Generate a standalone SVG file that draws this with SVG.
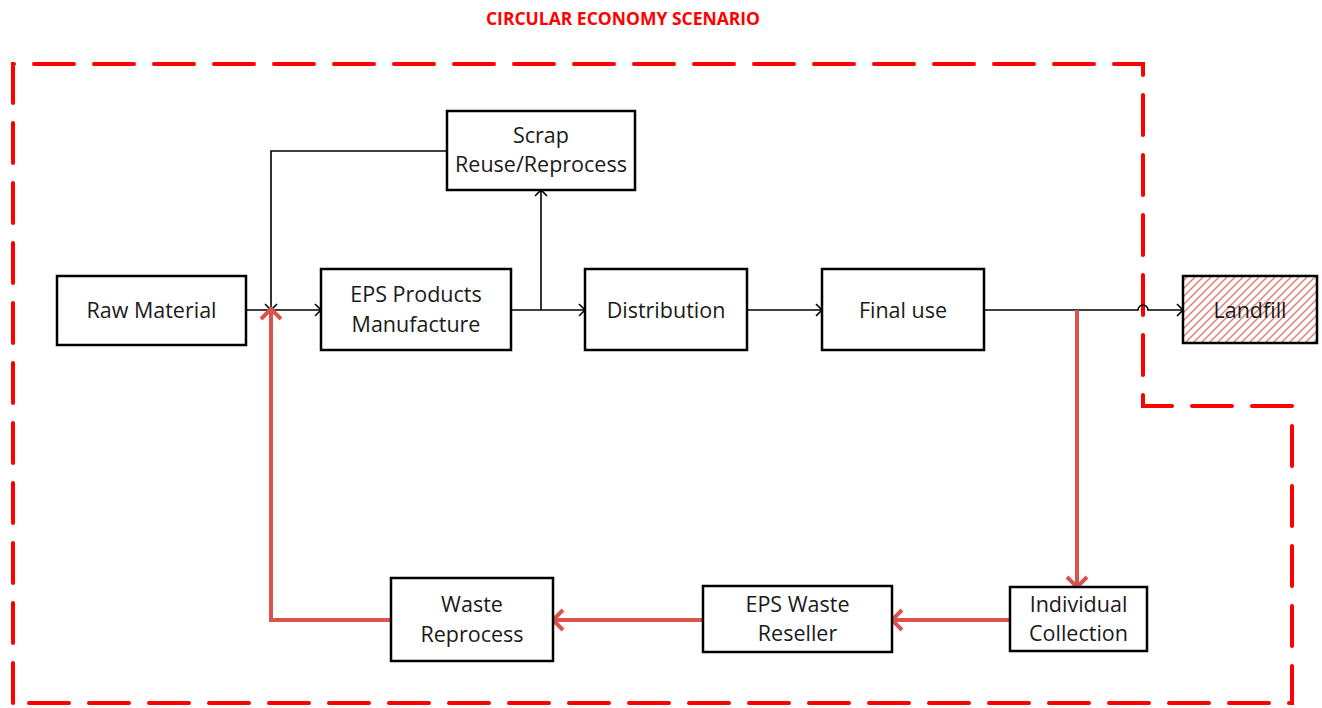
<svg xmlns="http://www.w3.org/2000/svg" width="1322" height="708" viewBox="0 0 1322 708">
<style>
.box{fill:#fff;stroke:#000;stroke-width:2.5}
.lbl{font-family:"Open Sans","Liberation Sans",sans-serif;font-size:21.5px;fill:#1a1a1a;text-anchor:middle}
.ln{fill:none;stroke:#000;stroke-width:1.6}
.rl{fill:none;stroke:#d9534f;stroke-width:4}
.border{fill:none;stroke:#ff0000;stroke-width:4;stroke-dasharray:40 20;stroke-linecap:round}
</style>
<defs>
<marker id="ab" markerWidth="14" markerHeight="14" refX="12" refY="7" orient="auto" markerUnits="userSpaceOnUse">
<path d="M6,1 L12,7 L6,13" fill="none" stroke="#000" stroke-width="1.6"/>
</marker>
<marker id="ar" markerWidth="24" markerHeight="24" refX="20" refY="12" orient="auto" markerUnits="userSpaceOnUse">
<path d="M10,2 L20,12 L10,22" fill="none" stroke="#d9534f" stroke-width="4"/>
</marker>
<pattern id="hatch" width="8" height="8" patternUnits="userSpaceOnUse">
<rect width="8" height="8" fill="#fff"/>
<path d="M-2,2 L2,-2 M0,8 L8,0 M6,10 L10,6" stroke="#e0807c" stroke-width="1.5"/>
</pattern>
</defs>
<text x="623" y="25" font-family="'Open Sans','Liberation Sans',sans-serif" font-size="17.5" font-weight="bold" fill="#ff0000" text-anchor="middle">CIRCULAR ECONOMY SCENARIO</text>
<path class="border" d="M13,703 L13,64 L1143,64 L1143,406 L1292,406 L1292,703 Z"/>
<g id="connectors">
<path class="ln" d="M246,310 L321,310" marker-end="url(#ab)"/>
<path class="ln" d="M447,151 L271,151 L271,310" marker-end="url(#ab)"/>
<path class="ln" d="M511,310 L585,310" marker-end="url(#ab)"/>
<path class="ln" d="M541,310 L541,190" marker-end="url(#ab)"/>
<path class="ln" d="M747,310 L822,310" marker-end="url(#ab)"/>
<path class="ln" d="M984,310 L1138,310 A5,5 0 0 1 1148,310 L1183,310" marker-end="url(#ab)"/>
<path class="rl" d="M1077,310 L1077,587" marker-end="url(#ar)"/>
<path class="rl" d="M1010,620 L892,620" marker-end="url(#ar)"/>
<path class="rl" d="M703,620 L553,620" marker-end="url(#ar)"/>
<path class="rl" d="M391,620 L271,620 L271,309" marker-end="url(#ar)"/>
</g>
<g id="raw-material"><rect class="box" x="57" y="276" width="189" height="69"/><text class="lbl" x="151.5" y="318">Raw Material</text></g>
<g id="eps-manufacture"><rect class="box" x="321" y="269" width="190" height="81"/><text class="lbl" x="416" y="302">EPS Products</text><text class="lbl" x="416" y="332">Manufacture</text></g>
<g id="scrap"><rect class="box" x="447" y="111" width="188" height="79"/><text class="lbl" x="541" y="143">Scrap</text><text class="lbl" x="541" y="172">Reuse/Reprocess</text></g>
<g id="distribution"><rect class="box" x="585" y="269" width="162" height="81"/><text class="lbl" x="666" y="318">Distribution</text></g>
<g id="final-use"><rect class="box" x="822" y="269" width="162" height="81"/><text class="lbl" x="903" y="318">Final use</text></g>
<g id="landfill"><rect x="1183" y="276" width="134" height="67" fill="url(#hatch)" stroke="#000" stroke-width="2.5"/><text class="lbl" x="1250" y="318">Landfill</text></g>
<g id="individual-collection"><rect class="box" x="1010" y="587" width="137" height="64"/><text class="lbl" x="1078.5" y="612">Individual</text><text class="lbl" x="1078.5" y="641">Collection</text></g>
<g id="eps-waste-reseller"><rect class="box" x="703" y="586" width="189" height="66"/><text class="lbl" x="797.5" y="612">EPS Waste</text><text class="lbl" x="797.5" y="641">Reseller</text></g>
<g id="waste-reprocess"><rect class="box" x="391" y="578" width="162" height="83"/><text class="lbl" x="472" y="612">Waste</text><text class="lbl" x="472" y="642">Reprocess</text></g>
</svg>
